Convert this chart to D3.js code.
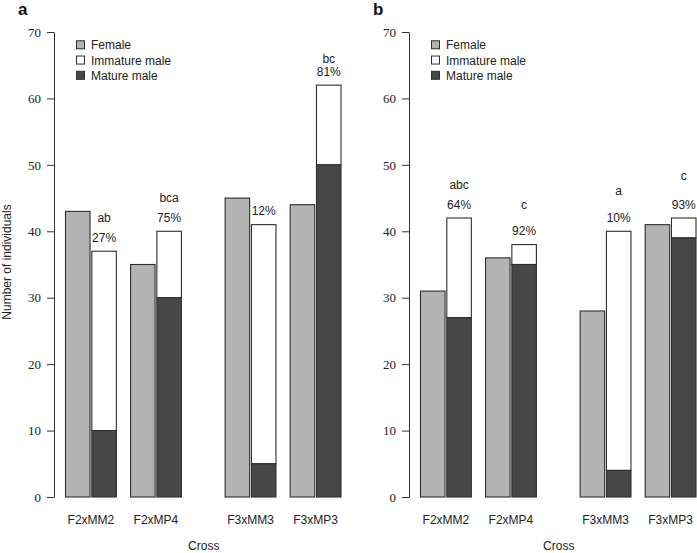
<!DOCTYPE html>
<html><head><meta charset="utf-8">
<script src="https://cdn.jsdelivr.net/npm/d3@7"></script>
<style>body{margin:0;background:#fff}</style>
</head><body>
<svg id="chart" width="697" height="553"></svg>
<script>
// ---------- data ----------
const crosses = ["F2xMM2","F2xMP4","F3xMM3","F3xMP3"];
const families = ["F2","F3"];
const seriesNames = ["Female","Immature male","Mature male"];
const yTicks = [0,10,20,30,40,50,60,70];

// panel a
const femaleA = [43,35,45,44];
const totalMaleA = [37,40,41,62];
const matureA = [10,30,5,50];
const pctA = ["27%","75%","12%","81%"];
const letterA = ["ab","bca","","bc"];
const letterYA = [42,45,null,66];

// panel b
const femaleB = [31,36,28,41];
const totalMaleB = [42,38,40,42];
const matureB = [27,35,4,39];
const pctB = ["64%","92%","10%","93%"];
const letterB = ["abc","c","a","c"];
const letterYB = [47,44,46,48.3];

// ---------- drawing ----------
const svg = d3.select("#chart");
const colors = {"Female":"#b3b3b3","Immature male":"#ffffff","Mature male":"#474747"};
const sans = "'Liberation Sans', Arial, Helvetica, sans-serif";
const serif = "'Liberation Serif', 'Times New Roman', serif";
const ink = "#222";
const stroke = "#2e2e2e";

const y = d3.scaleLinear().domain([0,70]).range([497,32]);

function panel(axisX, tag, female, totalMale, mature, pct, letters, letterY, showYLabel){
  const g = svg.append("g");

  // x scales: family -> cross -> bar
  const xFam = d3.scaleBand().domain(families)
    .range([axisX + 11.5, axisX + 287]).paddingInner(0.274).paddingOuter(0);
  const xCross = d3.scaleBand().domain([0,1])
    .range([0, xFam.bandwidth()]).paddingInner(0.2185).paddingOuter(0);
  const xBar = d3.scaleBand().domain(["f","m"])
    .range([0, xCross.bandwidth()]).paddingInner(0.068).paddingOuter(0);

  const rows = crosses.map((c,i)=>({
    cross:c, i,
    x0: xFam(c.slice(0,2)) + xCross(i%2),
    female: female[i], total: totalMale[i], mature: mature[i],
    pct: pct[i], letter: letters[i], letterY: letterY[i]
  }));

  // axis
  const ax = g.append("g").attr("transform",`translate(${axisX},0)`)
    .call(d3.axisLeft(y).tickValues(yTicks).tickSize(7).tickPadding(6).tickSizeOuter(0));
  ax.select(".domain").attr("stroke","#333");
  ax.selectAll(".tick line").attr("stroke","#333");
  ax.selectAll(".tick text").attr("font-family",serif).attr("font-size",13).attr("fill",ink);

  const bw = xBar.bandwidth();
  // female bars
  g.selectAll(".fem").data(rows).join("rect")
    .attr("x",d=>d.x0+xBar("f")).attr("width",bw)
    .attr("y",d=>y(d.female)).attr("height",d=>y(0)-y(d.female))
    .attr("fill",colors["Female"]).attr("stroke",stroke).attr("stroke-width",1.1);
  // immature (total male) bars
  g.selectAll(".imm").data(rows).join("rect")
    .attr("x",d=>d.x0+xBar("m")).attr("width",bw)
    .attr("y",d=>y(d.total)).attr("height",d=>y(d.mature)-y(d.total))
    .attr("fill",colors["Immature male"]).attr("stroke",stroke).attr("stroke-width",1.1);
  // mature bars
  g.selectAll(".mat").data(rows).join("rect")
    .attr("x",d=>d.x0+xBar("m")).attr("width",bw)
    .attr("y",d=>y(d.mature)).attr("height",d=>y(0)-y(d.mature))
    .attr("fill",colors["Mature male"]).attr("stroke",stroke).attr("stroke-width",1.1);

  // percent labels
  g.selectAll(".pct").data(rows).join("text")
    .attr("x",d=>d.x0+xBar("m")+bw/2).attr("y",d=>y(d.total+2))
    .attr("text-anchor","middle").attr("dominant-baseline","central")
    .attr("font-family",sans).attr("font-size",12).attr("fill",ink)
    .text(d=>d.pct);
  // letter labels
  g.selectAll(".let").data(rows.filter(d=>d.letter)).join("text")
    .attr("x",d=>d.x0+xBar("m")+bw/2).attr("y",d=>y(d.letterY))
    .attr("text-anchor","middle").attr("dominant-baseline","central")
    .attr("font-family",sans).attr("font-size",12).attr("fill",ink)
    .text(d=>d.letter);

  // x category labels
  g.selectAll(".xl").data(rows).join("text")
    .attr("x",d=>d.x0+xCross.bandwidth()/2).attr("y",520)
    .attr("text-anchor","middle").attr("dominant-baseline","central")
    .attr("font-family",sans).attr("font-size",12).attr("fill",ink)
    .text(d=>d.cross);

  // x title
  g.append("text").attr("x",(xFam.range()[0]+xFam.range()[1])/2 + 0.5).attr("y",550)
    .attr("text-anchor","middle")
    .attr("font-family",sans).attr("font-size",12).attr("fill",ink).text("Cross");

  // panel tag
  g.append("text").attr("x",axisX-36).attr("y",15)
    .attr("font-family",sans).attr("font-weight","bold").attr("font-size",17).attr("fill","#111")
    .text(tag);

  // legend
  const ly = d3.scalePoint().domain(seriesNames).range([44.8,75.3]);
  const lg = g.append("g");
  lg.selectAll("rect").data(seriesNames).join("rect")
    .attr("x",axisX+22.5).attr("y",d=>ly(d)-4).attr("width",8).attr("height",8)
    .attr("fill",d=>colors[d]).attr("stroke",stroke).attr("stroke-width",1);
  lg.selectAll("text").data(seriesNames).join("text")
    .attr("x",axisX+37).attr("y",d=>ly(d)+0.5).attr("dominant-baseline","central")
    .attr("font-family",sans).attr("font-size",12).attr("fill",ink).text(d=>d);

  if(showYLabel){
    g.append("text").attr("transform",`translate(11,262) rotate(-90)`)
      .attr("text-anchor","middle")
      .attr("font-family",sans).attr("font-size",12).attr("fill",ink)
      .text("Number of individuals");
  }
}

panel(54, "a", femaleA, totalMaleA, matureA, pctA, letterA, letterYA, true);
panel(409, "b", femaleB, totalMaleB, matureB, pctB, letterB, letterYB, false);
</script>
</body></html>
